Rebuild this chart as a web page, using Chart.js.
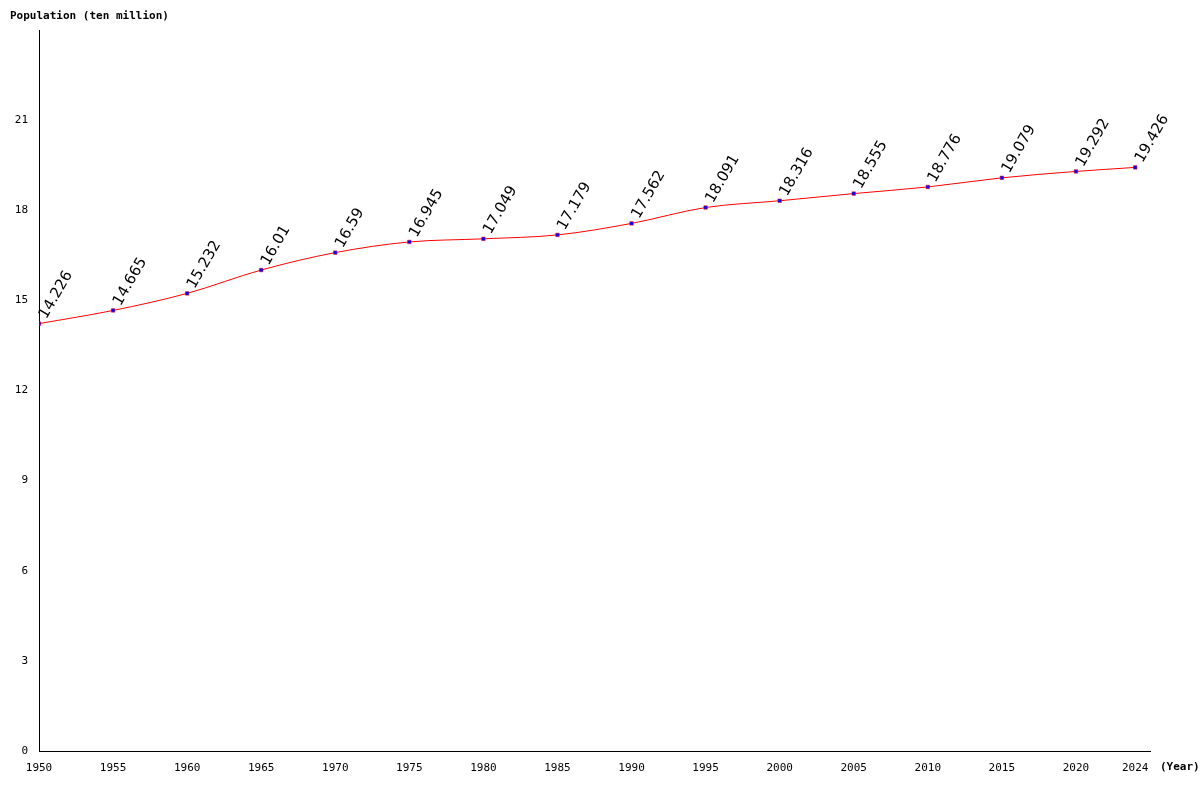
<!DOCTYPE html>
<html><head><script src="https://cdn.jsdelivr.net/npm/chart.js@4"></script>
<style>body{margin:0;background:#fff}#w{width:1200px;height:800px}</style></head>
<body><div id="w"><canvas id="c"></canvas></div>
<script>
const years=[1950,1955,1960,1965,1970,1975,1980,1985,1990,1995,2000,2005,2010,2015,2020,2024];
const population=[14.226,14.665,15.232,16.01,16.59,16.945,17.049,17.179,17.562,18.091,18.316,18.555,18.776,19.079,19.292,19.426];
const labels=["14.226","14.665","15.232","16.01","16.59","16.945","17.049","17.179","17.562","18.091","18.316","18.555","18.776","19.079","19.292","19.426"];
const mono='"DejaVu Sans Mono", monospace';
const extra={id:'extra',afterDatasetsDraw(ch){
 const c=ch.ctx,m=ch.getDatasetMeta(0);
 c.save();c.font='15px "DejaVu Sans", sans-serif';c.fillStyle='#000';
 m.data.forEach((p,i)=>{c.save();c.translate(p.x+4,p.y-6);c.rotate(-Math.PI/3);c.textAlign='left';c.textBaseline='middle';c.fillText(labels[i],0,0);c.restore();});
 c.font='bold 11px '+mono;c.textBaseline='middle';c.textAlign='left';
 c.fillText('Population (ten million)',10,16);
 c.fillText('(Year)',1160,767);
 c.restore();}};
new Chart(document.getElementById('c'),{type:'line',
 data:{datasets:[{data:years.map((y,i)=>({x:y,y:population[i]})),borderColor:'#ff0000',borderWidth:1,
  cubicInterpolationMode:'monotone',pointStyle:'rect',pointRadius:2.5,pointBackgroundColor:'#0000ff',pointBorderColor:'#ff0000',pointBorderWidth:0.5}]},
 options:{responsive:true,maintainAspectRatio:false,animation:false,
  layout:{padding:{top:30,right:50,left:0,bottom:0}},
  plugins:{legend:{display:false},tooltip:{enabled:false}},
  scales:{
   x:{type:'linear',min:1950,max:2025,grid:{display:false,drawTicks:true},border:{color:'#000'},
     afterBuildTicks(s){s.ticks=years.map(v=>({value:v}));},
     afterFit(s){s.height=49;},
     ticks:{autoSkip:false,maxRotation:0,color:'#000',font:{family:mono,size:11},callback:v=>String(v)}},
   y:{min:0,max:24,grid:{display:false},border:{color:'#000'},
     afterFit(s){s.width=39;},
     ticks:{stepSize:3,color:'#000',font:{family:mono,size:11},callback:v=>v===24?'':String(v)}}
  }},
 plugins:[extra]});
</script></body></html>
